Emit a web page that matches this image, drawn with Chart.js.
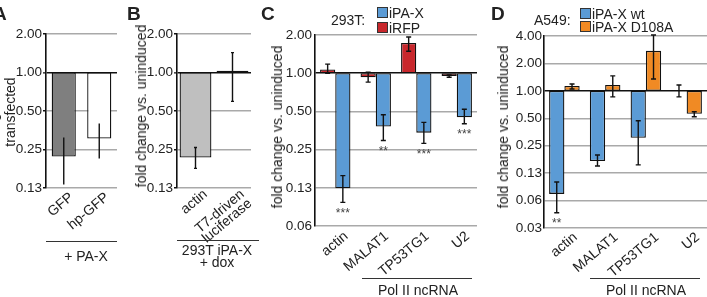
<!DOCTYPE html>
<html><head><meta charset="utf-8">
<script src="https://cdn.jsdelivr.net/npm/chart.js@4.4.1/dist/chart.umd.min.js"></script>
<style>
html,body{margin:0;padding:0;background:#fff;}
body{width:707px;height:297px;position:relative;overflow:hidden;font-family:"Liberation Sans",Arial,sans-serif;color:#222;}
canvas{position:absolute;top:0;}
.t{position:absolute;white-space:nowrap;font-size:14px;line-height:14px;transform:translate(-50%,-50%);}
.r{position:absolute;white-space:nowrap;font-size:14px;line-height:14px;transform:translate(-50%,-50%) rotate(-90deg);}
.L{position:absolute;font-weight:bold;font-size:19px;line-height:19px;}
.g{position:absolute;height:0;border-top:1.6px solid #333;}
.box{position:absolute;width:9px;height:9px;border:1px solid #333;}
.lt{position:absolute;white-space:nowrap;font-size:14px;line-height:14px;transform:translateY(-50%);}
</style></head><body>
<canvas id="cA" width="125" height="297" style="left:0px"></canvas>
<canvas id="cB" width="135" height="297" style="left:125px"></canvas>
<canvas id="cC" width="222" height="297" style="left:260px"></canvas>
<canvas id="cD" width="225" height="297" style="left:482px"></canvas>

<div class="L" style="left:-7px;top:4px">A</div>
<div class="L" style="left:127px;top:4px">B</div>
<div class="L" style="left:261px;top:4px">C</div>
<div class="L" style="left:491px;top:4px">D</div>

<div class="r" style="left:-7px;top:112px">fold change vs. mock</div>
<div class="r" style="left:10px;top:112px">transfected</div>
<div class="r" style="left:141px;top:106px">fold change vs. uninduced</div>
<div class="r" style="left:277px;top:127px">fold change vs. uninduced</div>
<div class="r" style="left:503px;top:127px">fold change vs. uninduced</div>

<div class="g" style="left:46px;width:71px;top:241px"></div>
<div class="t" style="left:86px;top:256px">+ PA-X</div>
<div class="g" style="left:177px;width:82px;top:240px"></div>
<div class="t" style="left:217px;top:250px">293T iPA-X</div>
<div class="t" style="left:217px;top:262px">+ dox</div>
<div class="g" style="left:362px;width:110px;top:278px"></div>
<div class="t" style="left:418px;top:290px">Pol II ncRNA</div>
<div class="g" style="left:590px;width:110px;top:278px"></div>
<div class="t" style="left:646px;top:290px">Pol II ncRNA</div>

<div id="legC"></div>
<div id="legD"></div>

<script>
// ---------- data ----------
const yTicks2 = [2, 1, 0.5, 0.25, 0.125];
const yLabels2 = ['2.00', '1.00', '0.50', '0.25', '0.13'];
const yTicksC = [2, 1, 0.5, 0.25, 0.125, 0.0625];
const yLabelsC = ['2.00', '1.00', '0.50', '0.25', '0.13', '0.06'];
const yTicksD = [4, 2, 1, 0.5, 0.25, 0.125, 0.0625, 0.03125];
const yLabelsD = ['4.00', '2.00', '1.00', '0.50', '0.25', '0.13', '0.06', '0.03'];

const catsA = ['GFP', 'hp-GFP'];
const valsA = [0.22, 0.305];
const errLoA = [0.133, 0.213];
const errHiA = [0.31, 0.40];

const catsB = ['actin', ['T7-driven', 'luciferase']];
const valsB = [0.216, 1.03];
const errLoB = [0.178, 0.595];
const errHiB = [0.259, 1.43];

const catsC = ['actin', 'MALAT1', 'TP53TG1', 'U2'];
const seriesC = ['iPA-X', 'iRFP'];
const valsC_iPAX = [0.124, 0.38, 0.34, 0.45];
const errLoC_iPAX = [0.096, 0.295, 0.28, 0.40];
const errHiC_iPAX = [0.156, 0.47, 0.41, 0.52];
const starsC_iPAX = ['***', '**', '***', '***'];
const valsC_iRFP = [1.07, 0.93, 1.73, 0.95];
const errLoC_iRFP = [1.0, 0.85, 1.49, 0.93];
const errHiC_iRFP = [1.18, 1.02, 1.93, 0.97];

const catsD = ['actin', 'MALAT1', 'TP53TG1', 'U2'];
const seriesD = ['iPA-X wt', 'iPA-X D108A'];
const valsD_wt = [0.074, 0.17, 0.305, 1.01];
const errLoD_wt = [0.046, 0.15, 0.154, 0.86];
const errHiD_wt = [0.10, 0.198, 0.47, 1.16];
const starsD_wt = ['**', '', '', ''];
const valsD_mut = [1.13, 1.16, 2.75, 0.56];
const errLoD_mut = [1.05, 0.86, 1.35, 0.52];
const errHiD_mut = [1.19, 1.46, 4.1, 0.59];

// ---------- colours ----------
const COL = {grayA:'#7f7f7f', white:'#ffffff', grayB:'#bfbfbf', blue:'#5b9bd5', red:'#c8272c', orange:'#f08a24'};
const FONT = '"Liberation Sans", Arial, sans-serif';

// error bars + significance stars
const errPlugin = {
  id: 'errbars',
  afterDatasetsDraw(chart, args, opts) {
    const ctx = chart.ctx, ys = chart.scales.y;
    chart.data.datasets.forEach((ds, i) => {
      const meta = chart.getDatasetMeta(i);
      meta.data.forEach((bar, j) => {
        if (!ds.errLo) return;
        const x = bar.x;
        const yl = ys.getPixelForValue(ds.errLo[j]);
        const yh = ys.getPixelForValue(ds.errHi[j]);
        ctx.save();
        ctx.strokeStyle = '#111';
        ctx.lineWidth = 1.4;
        ctx.beginPath();
        ctx.moveTo(x, yl); ctx.lineTo(x, yh);
        const c = opts.cap || 0;
        if (c) { ctx.moveTo(x - c, yl); ctx.lineTo(x + c, yl); ctx.moveTo(x - c, yh); ctx.lineTo(x + c, yh); }
        ctx.stroke();
        if (ds.stars && ds.stars[j]) {
          ctx.fillStyle = '#444';
          ctx.font = '12px ' + FONT;
          ctx.textAlign = 'center';
          ctx.textBaseline = 'middle';
          ctx.fillText(ds.stars[j], x, yl + 11);
        }
        ctx.restore();
      });
    });
  }
};

function floatBars(vals) { return vals.map(v => [1, v]); }

function makeChart(id, cats, datasets, cfg) {
  const ticks = cfg.ticks, labels = cfg.labels;
  return new Chart(document.getElementById(id), {
    type: 'bar',
    data: { labels: cats, datasets: datasets.map(d => Object.assign({
      borderColor: '#111', borderWidth: 1.3, borderSkipped: false,
      categoryPercentage: cfg.catPct, barPercentage: 1, grouped: true
    }, d)) },
    plugins: [errPlugin],
    options: {
      responsive: false, animation: false, devicePixelRatio: 1,
      layout: { padding: { top: cfg.top, right: cfg.right, left: 0, bottom: 0 } },
      plugins: { legend: { display: false }, tooltip: { enabled: false }, errbars: { cap: cfg.cap } },
      scales: {
        x: {
          type: 'category',
          grid: { display: false, drawTicks: false },
          border: { display: false },
          ticks: { color: '#222', font: { size: 14, family: FONT, lineHeight: cfg.xlh || 1.2 }, minRotation: 40, maxRotation: 40,
                   padding: cfg.xpad, labelOffset: cfg.xoff, autoSkip: false },
          afterFit: s => { s.height = cfg.xh; }
        },
        y: {
          type: 'logarithmic',
          min: ticks[ticks.length - 1], max: ticks[0],
          afterBuildTicks: s => { s.ticks = ticks.map(v => ({ value: v })); },
          ticks: { color: '#222', font: { size: 13.5, family: FONT }, padding: cfg.tpad,
                   callback: v => labels[ticks.indexOf(v)] },
          grid: {
            color: c => (c.tick && c.tick.value === 1) ? '#111' : '#a9a9a9',
            lineWidth: c => (c.tick && c.tick.value === 1) ? 1.6 : 1.5,
            drawTicks: cfg.tl > 0, tickLength: cfg.tl, tickColor: '#111', tickWidth: 1.3
          },
          border: { display: true, color: '#111', width: 1.6 },
          afterFit: s => { s.width = cfg.yw; }
        }
      }
    }
  });
}

makeChart('cA', catsA, [
  { data: floatBars(valsA), backgroundColor: [COL.grayA, COL.white], errLo: errLoA, errHi: errHiA }
], { ticks: yTicks2, labels: yLabels2, yw: 46, top: 34, right: 8, xh: 109, catPct: 0.68, cap: 0, tl: 3, tpad: 1, xpad: 1, xoff: 8 });

makeChart('cB', catsB, [
  { data: floatBars(valsB), backgroundColor: [COL.grayB, COL.white], errLo: errLoB, errHi: errHiB }
], { ticks: yTicks2, labels: yLabels2, yw: 52, top: 34, right: 9, xh: 109, catPct: 0.86, cap: 1.5, tl: 3, tpad: 1, xpad: 0, xoff: 10, xlh: 0.85 });

makeChart('cC', catsC, [
  { label: seriesC[1], data: floatBars(valsC_iRFP), backgroundColor: COL.red, errLo: errLoC_iRFP, errHi: errHiC_iRFP },
  { label: seriesC[0], data: floatBars(valsC_iPAX), backgroundColor: COL.blue, errLo: errLoC_iPAX, errHi: errHiC_iPAX, stars: starsC_iPAX }
], { ticks: yTicksC, labels: yLabelsC, yw: 55, top: 35, right: 5, xh: 71, catPct: 0.75, cap: 2.5, tl: 0, tpad: 3, xpad: 2, xoff: 11 });

makeChart('cD', catsD, [
  { label: seriesD[0], data: floatBars(valsD_wt), backgroundColor: COL.blue, errLo: errLoD_wt, errHi: errHiD_wt, stars: starsD_wt },
  { label: seriesD[1], data: floatBars(valsD_mut), backgroundColor: COL.orange, errLo: errLoD_mut, errHi: errHiD_mut }
], { ticks: yTicksD, labels: yLabelsD, yw: 62, top: 36, right: 0, xh: 69, catPct: 0.75, cap: 2.5, tl: 0, tpad: 2, xpad: 1, xoff: 11 });

// ---------- HTML legends ----------
function legend(el, title, tx, ty, bx, items) {
  let h = `<div class="lt" style="left:${tx}px;top:${ty}px">${title}</div>`;
  items.forEach((it, k) => {
    const by = it.y;
    h += `<div class="box" style="left:${bx}px;top:${by}px;background:${it.c}"></div>`;
    h += `<div class="lt" style="left:${bx + 12}px;top:${by + 5.5}px">${it.t}</div>`;
  });
  document.getElementById(el).innerHTML = h;
}
legend('legC', '293T:', 331, 20, 377, [{ t: seriesC[0], c: COL.blue, y: 7 }, { t: seriesC[1], c: COL.red, y: 22 }]);
legend('legD', 'A549:', 534, 20, 580, [{ t: seriesD[0], c: COL.blue, y: 8 }, { t: seriesD[1], c: COL.orange, y: 21 }]);
</script>
</body></html>
